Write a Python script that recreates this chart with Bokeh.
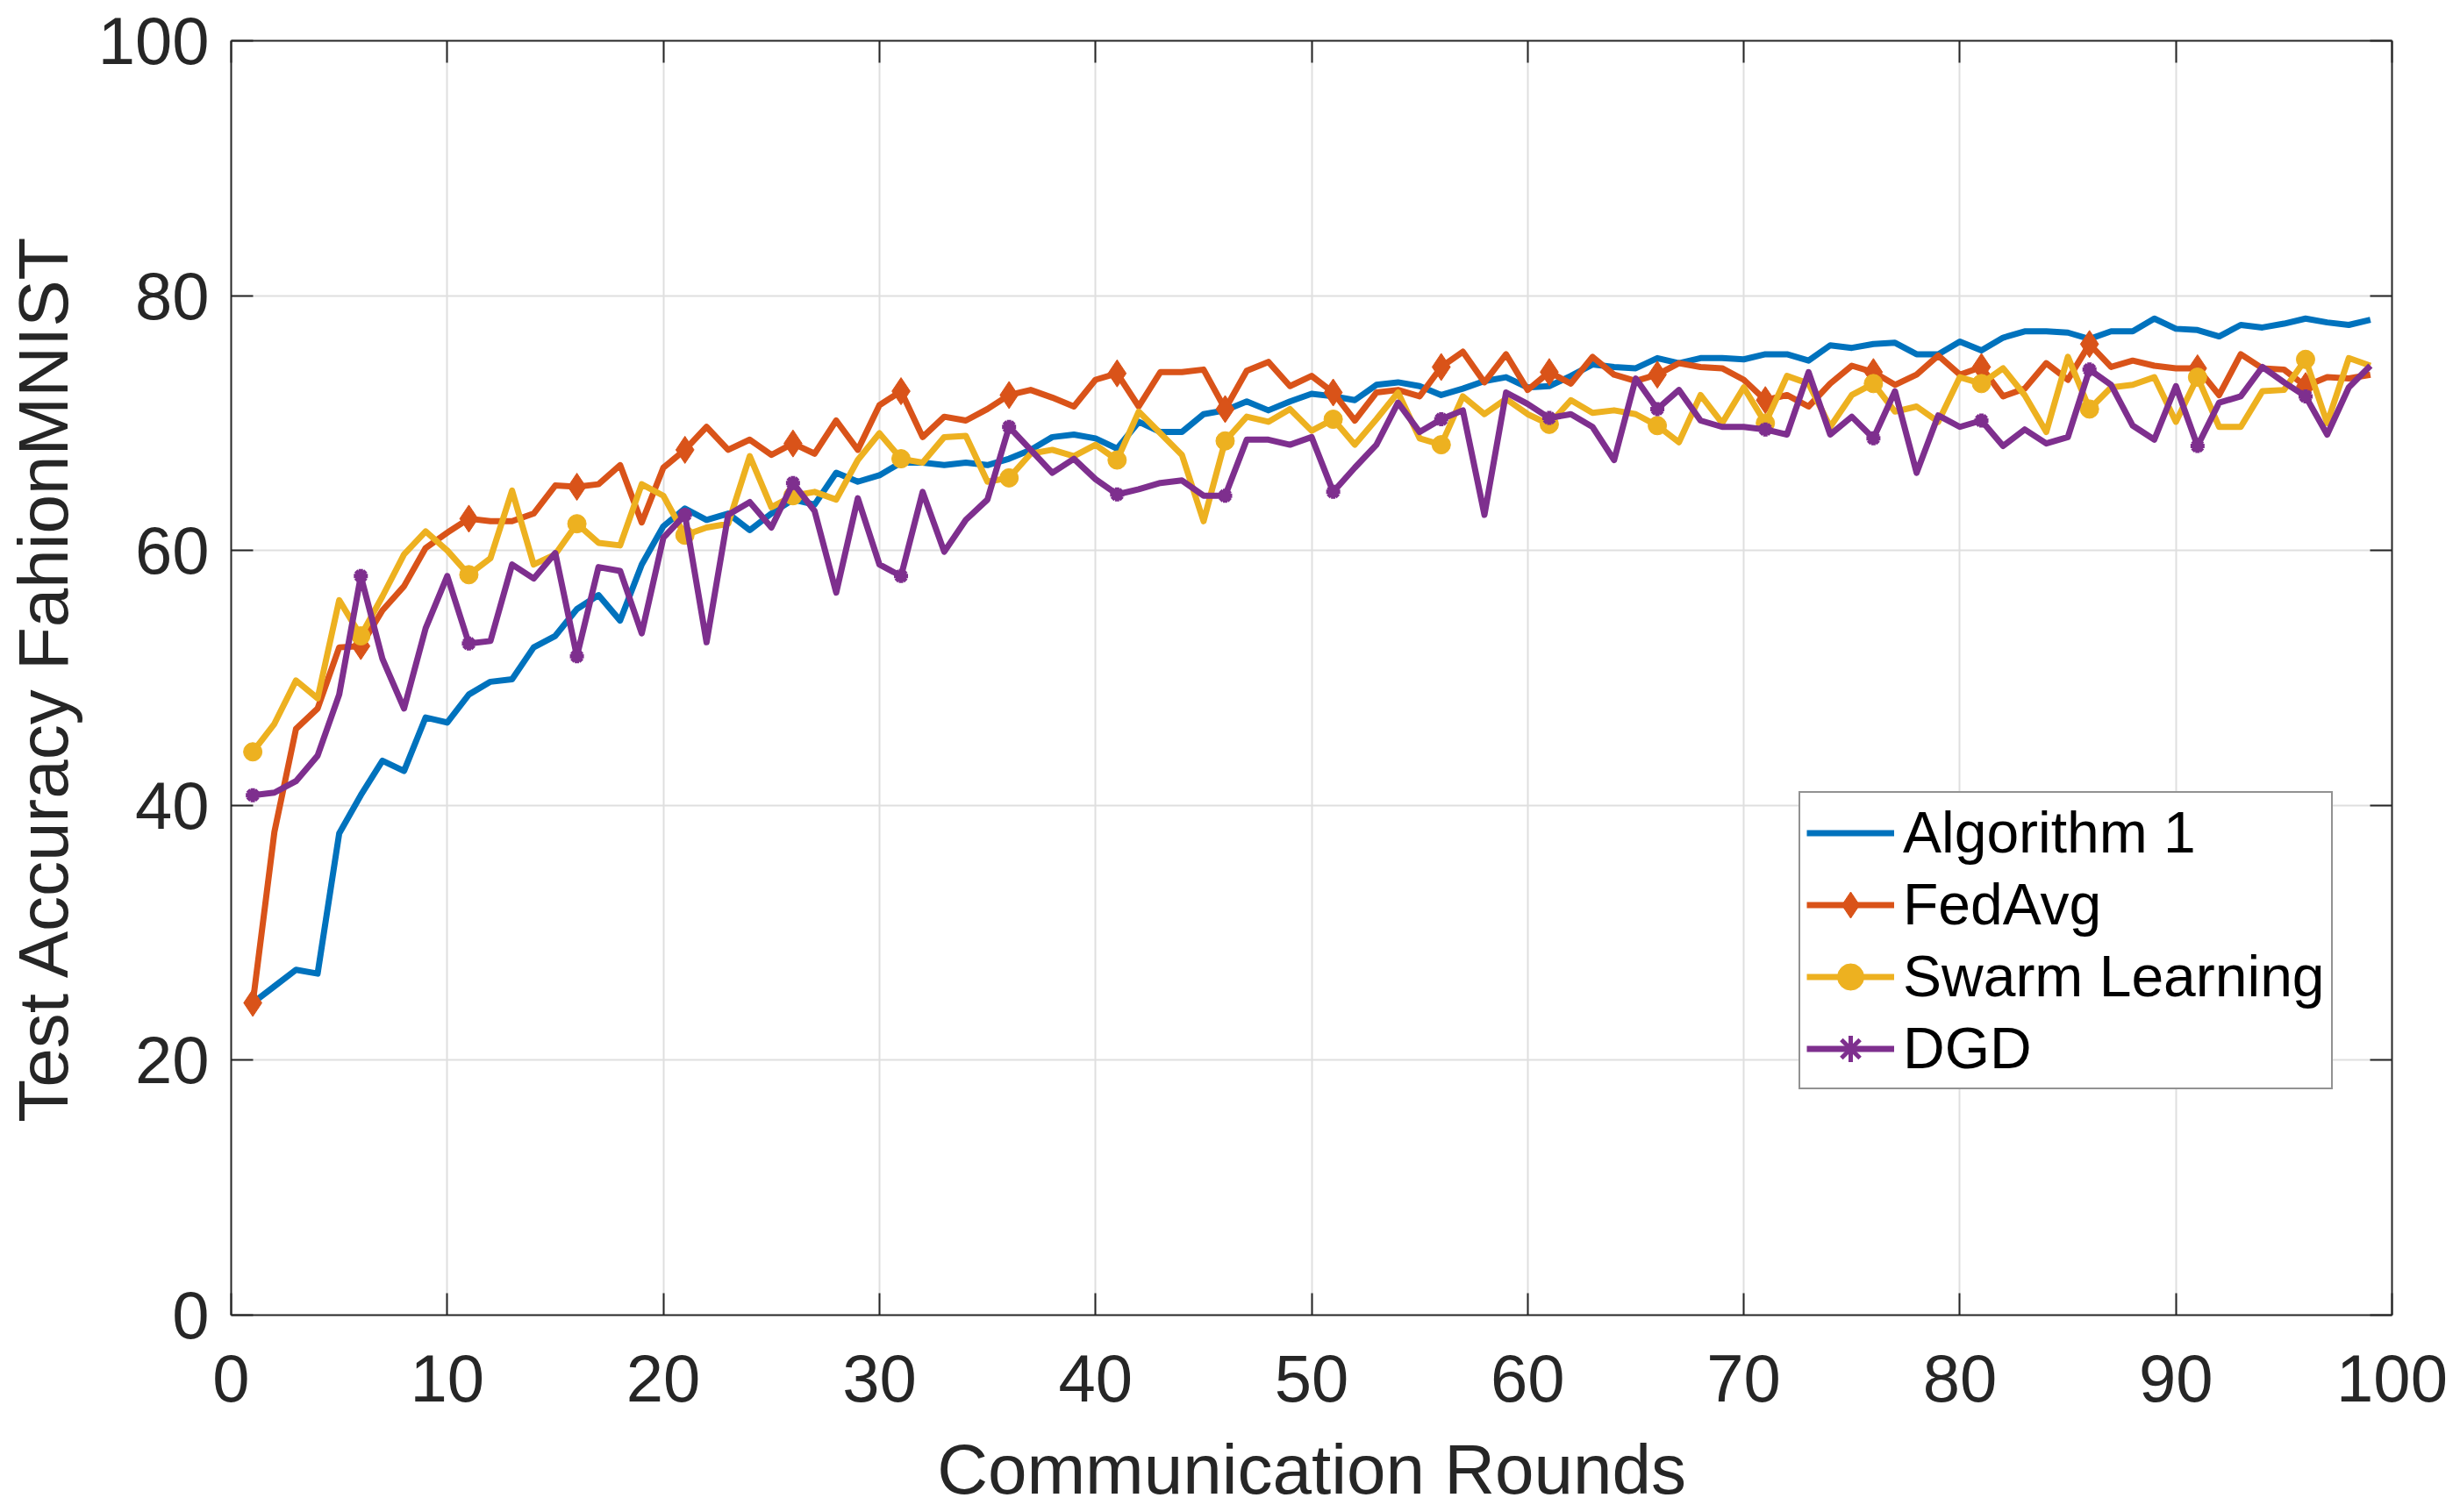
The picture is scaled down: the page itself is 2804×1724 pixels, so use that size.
from bokeh.plotting import figure
from bokeh.models import LinearAxis, FixedTicker, Range1d, Legend, LegendItem
from bokeh.embed import file_html
from bokeh.resources import INLINE

rounds = list(range(1, 100))

algorithm1 = [24.5, 25.8, 27.1, 26.8, 37.8, 40.8, 43.5, 42.7, 46.9, 46.5,
              48.7, 49.7, 49.9, 52.4, 53.3, 55.4, 56.5, 54.5, 58.9, 61.9,
              63.3, 62.4, 62.9, 61.6, 62.9, 64.0, 63.6, 66.1, 65.4, 65.9,
              66.9, 66.9, 66.7, 66.9, 66.7, 67.2, 67.9, 68.9, 69.1, 68.8,
              68.0, 70.1, 69.3, 69.3, 70.7, 71.0, 71.7, 71.0, 71.7, 72.3,
              72.1, 71.8, 73.0, 73.2, 72.9, 72.2, 72.7, 73.3, 73.6, 72.8,
              72.9, 73.7, 74.6, 74.4, 74.3, 75.1, 74.7, 75.1, 75.1, 75.0,
              75.4, 75.4, 74.9, 76.1, 75.9, 76.2, 76.3, 75.4, 75.4, 76.4,
              75.7, 76.7, 77.2, 77.2, 77.1, 76.6, 77.2, 77.2, 78.2, 77.4,
              77.3, 76.8, 77.7, 77.5, 77.8, 78.2, 77.9, 77.7, 78.1]

fedavg = [24.5, 37.9, 46.0, 47.6, 52.4, 52.5, 55.3, 57.2, 60.2, 61.4,
          62.5, 62.3, 62.3, 62.9, 65.1, 65.0, 65.2, 66.7, 62.2, 66.5,
          67.9, 69.7, 67.9, 68.7, 67.5, 68.4, 67.6, 70.2, 67.9, 71.4,
          72.5, 68.9, 70.5, 70.2, 71.1, 72.2, 72.6, 72.0, 71.3, 73.4,
          73.9, 71.3, 74.0, 74.0, 74.2, 71.1, 74.1, 74.8, 72.9, 73.7,
          72.4, 70.2, 72.4, 72.6, 72.1, 74.4, 75.6, 73.2, 75.4, 72.6,
          74.0, 73.1, 75.2, 73.8, 73.3, 73.8, 74.7, 74.4, 74.3, 73.4,
          71.8, 72.2, 71.3, 73.1, 74.5, 74.0, 73.0, 73.8, 75.3, 73.8,
          74.4, 72.1, 72.7, 74.7, 73.4, 76.2, 74.4, 74.9, 74.5, 74.3,
          74.3, 72.2, 75.4, 74.3, 74.2, 72.9, 73.6, 73.5, 73.8]

swarm = [44.2, 46.4, 49.8, 48.4, 56.1, 53.3, 56.4, 59.7, 61.5, 60.0,
         58.1, 59.4, 64.7, 58.9, 59.7, 62.1, 60.6, 60.4, 65.2, 64.3,
         61.2, 61.8, 62.1, 67.4, 63.4, 64.3, 64.6, 64.0, 67.1, 69.2,
         67.2, 66.9, 68.9, 69.0, 65.4, 65.7, 67.6, 67.9, 67.4, 68.3,
         67.1, 70.9, 69.2, 67.5, 62.3, 68.6, 70.5, 70.1, 71.1, 69.4,
         70.3, 68.3, 70.3, 72.4, 68.8, 68.3, 72.1, 70.7, 71.9, 70.7,
         69.9, 71.8, 70.8, 71.0, 70.7, 69.8, 68.5, 72.2, 70.0, 72.8,
         70.0, 73.7, 73.1, 69.7, 72.2, 73.1, 70.9, 71.3, 70.1, 73.6,
         73.1, 74.3, 72.2, 69.3, 75.2, 71.1, 72.8, 73.0, 73.6, 70.1,
         73.6, 69.7, 69.7, 72.5, 72.6, 75.0, 70.0, 75.1, 74.5]

dgd = [40.8, 41.0, 41.9, 43.9, 48.7, 58.0, 51.5, 47.6, 53.9, 58.0,
       52.7, 52.9, 58.9, 57.8, 59.8, 51.7, 58.7, 58.4, 53.5, 61.0,
       62.8, 52.8, 62.8, 63.8, 61.8, 65.3, 63.1, 56.7, 64.1, 58.9,
       58.0, 64.6, 59.9, 62.4, 64.0, 69.7, 67.9, 66.1, 67.2, 65.6,
       64.4, 64.8, 65.3, 65.5, 64.3, 64.3, 68.7, 68.7, 68.3, 68.9,
       64.6, 66.5, 68.3, 71.6, 69.3, 70.3, 71.0, 62.8, 72.4, 71.5,
       70.4, 70.7, 69.7, 67.1, 73.5, 71.1, 72.6, 70.2, 69.7, 69.7,
       69.5, 69.1, 74.0, 69.1, 70.5, 68.8, 72.5, 66.1, 70.6, 69.7,
       70.2, 68.2, 69.5, 68.4, 68.9, 74.2, 73.0, 69.8, 68.7, 72.9,
       68.2, 71.6, 72.1, 74.4, 73.2, 72.1, 69.1, 72.8, 74.5]

series_names = ["Algorithm 1", "FedAvg", "Swarm Learning", "DGD"]
x_ticks = [0, 10, 20, 30, 40, 50, 60, 70, 80, 90, 100]
y_ticks = [0, 20, 40, 60, 80, 100]
x_label = "Communication Rounds"
y_label = "Test Accuracy FahionMNIST"

FONT = "Liberation Sans"
AX = "#262626"
C_BLUE, C_ORANGE, C_YELLOW, C_PURPLE = "#0072BD", "#D95319", "#EDB120", "#7E2F8E"

p = figure(width=2804, height=1724,
           x_range=Range1d(0, 100), y_range=Range1d(0, 100),
           output_backend="svg", toolbar_location=None,
           min_border_left=263, min_border_right=78,
           min_border_top=46, min_border_bottom=225)
p.outline_line_color = None
p.background_fill_color = "white"
p.border_fill_color = "white"

for g in (p.xgrid, p.ygrid):
    g.grid_line_color = "#dfdfdf"
    g.grid_line_width = 2
p.xgrid.ticker = FixedTicker(ticks=x_ticks)
p.ygrid.ticker = FixedTicker(ticks=y_ticks)


def style_axis(ax, ticks, show_labels):
    ax.ticker = FixedTicker(ticks=ticks)
    ax.axis_line_color = AX
    ax.axis_line_width = 2
    ax.major_tick_line_color = AX
    ax.major_tick_line_width = 2
    ax.major_tick_in = 25
    ax.major_tick_out = 0
    ax.minor_tick_line_color = None
    if show_labels:
        ax.major_label_text_font = FONT
        ax.major_label_text_font_size = "76px"
        ax.major_label_text_color = AX
        ax.axis_label_text_font = FONT
        ax.axis_label_text_font_size = "80px"
        ax.axis_label_text_font_style = "normal"
        ax.axis_label_text_color = AX
    else:
        ax.major_label_text_font_size = "1px"
        ax.major_label_text_color = None
        ax.major_label_standoff = 0


xa = p.xaxis[0]
ya = p.yaxis[0]
style_axis(xa, x_ticks, True)
style_axis(ya, y_ticks, True)
xa.axis_label = x_label
ya.axis_label = y_label
xa.major_label_standoff = 45
xa.axis_label_standoff = 30
ya.major_label_standoff = 25
ya.axis_label_standoff = 15

top_ax = LinearAxis()
style_axis(top_ax, x_ticks, False)
p.add_layout(top_ax, "above")
right_ax = LinearAxis()
style_axis(right_ax, y_ticks, False)
p.add_layout(right_ax, "right")

LW = 7
r_a = p.line(rounds, algorithm1, line_color=C_BLUE, line_width=LW, line_join="round")

r_f = p.line(rounds, fedavg, line_color=C_ORANGE, line_width=LW, line_join="round")
r_fm = p.scatter(rounds[::5], fedavg[::5], marker="diamond", size=31,
                 fill_color=C_ORANGE, line_color=C_ORANGE, line_width=1)

r_s = p.line(rounds, swarm, line_color=C_YELLOW, line_width=LW, line_join="round")
r_sm = p.scatter(rounds[::5], swarm[::5], marker="circle", size=21,
                 fill_color=C_YELLOW, line_color=C_YELLOW, line_width=1)

r_d = p.line(rounds, dgd, line_color=C_PURPLE, line_width=LW, line_join="round")
r_dm = p.scatter(rounds[::5], dgd[::5], marker="asterisk", size=16,
                 line_color=C_PURPLE, line_width=5)

legend = Legend(items=[
    LegendItem(label=series_names[0], renderers=[r_a]),
    LegendItem(label=series_names[1], renderers=[r_f, r_fm]),
    LegendItem(label=series_names[2], renderers=[r_s, r_sm]),
    LegendItem(label=series_names[3], renderers=[r_d, r_dm]),
], location=(1787, 257))
legend.border_line_color = AX
legend.border_line_width = 2
legend.background_fill_color = "white"
legend.background_fill_alpha = 1
legend.label_text_font = FONT
legend.label_text_font_size = "66px"
legend.label_text_color = "black"
legend.glyph_width = 100
legend.glyph_height = 75
legend.label_height = 75
legend.label_standoff = 10
legend.spacing = 6
legend.padding = 7
legend.margin = 0
p.add_layout(legend)

open("out.html", "w").write(file_html(p, INLINE))
